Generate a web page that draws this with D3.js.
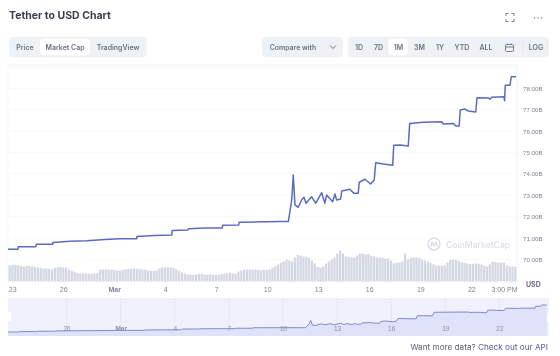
<!DOCTYPE html>
<html>
<head>
<meta charset="utf-8">
<script src="https://cdn.jsdelivr.net/npm/d3@7"></script>
<style>
  html, body { margin: 0; padding: 0; background: #fff; }
  svg { display: block; font-family: Inter, "Noto Sans", sans-serif; filter: blur(0.55px); }
</style>
</head>
<body>
<div id="chart"></div>
<script>
// days after 23 Feb, market cap in billions
var capDays = [-0.25, 0.34, 0.36, 1.39, 1.42, 2.38, 2.39, 3.39, 4.39, 5.45, 6.34, 7.32, 7.33, 8.39, 9.38, 9.41, 10.33, 10.36, 11.33, 12.35, 12.38, 13.32, 13.34, 15.75, 16.24, 16.44, 16.53, 16.63, 16.82, 17.02, 17.16, 17.28, 17.61, 17.86, 18.2, 18.39, 18.49, 18.85, 18.98, 19.08, 19.32, 19.38, 19.86, 20.1, 20.35, 20.41, 20.75, 21.08, 21.29, 21.38, 21.82, 22.38, 22.44, 22.81, 23.29, 23.38, 24.18, 25.26, 25.35, 25.94, 26.1, 26.29, 26.35, 26.63, 26.82, 27.26, 27.34, 28.0, 28.1, 28.2, 28.92, 28.96, 29.0, 29.28, 29.35, 29.63];
var capValues = [70.48, 70.48, 70.6, 70.6, 70.71, 70.71, 70.8, 70.85, 70.88, 70.94, 70.97, 70.97, 71.07, 71.12, 71.14, 71.35, 71.38, 71.44, 71.47, 71.47, 71.6, 71.61, 71.74, 71.77, 71.77, 72.78, 73.95, 72.55, 72.44, 72.78, 72.91, 72.63, 72.93, 72.63, 73.12, 72.63, 73.01, 72.7, 73.06, 72.78, 72.83, 73.2, 73.28, 73.09, 73.09, 73.61, 73.75, 73.53, 73.71, 74.52, 74.46, 74.4, 75.34, 75.35, 75.3, 76.36, 76.41, 76.44, 76.33, 76.36, 76.24, 76.24, 76.99, 77.03, 76.94, 76.89, 77.56, 77.55, 77.49, 77.58, 77.61, 77.42, 78.14, 78.14, 78.54, 78.54];
// volume, one bar for each 4 hours
var volumes = [48, 50, 50, 48, 47, 45, 47, 47, 45, 44, 42, 41, 39, 39, 38, 36, 41, 42, 44, 42, 42, 36, 32, 29, 26, 24, 24, 24, 23, 23, 24, 26, 35, 36, 36, 36, 35, 35, 33, 32, 35, 36, 38, 38, 39, 38, 38, 36, 35, 33, 32, 32, 33, 39, 42, 42, 42, 42, 41, 36, 32, 27, 24, 21, 21, 20, 21, 23, 23, 21, 21, 21, 20, 20, 20, 23, 24, 24, 26, 24, 23, 30, 33, 35, 36, 36, 36, 36, 35, 33, 35, 35, 36, 41, 45, 51, 56, 60, 65, 63, 60, 72, 80, 78, 75, 74, 71, 63, 54, 44, 41, 45, 53, 60, 65, 72, 84, 93, 84, 75, 74, 72, 72, 78, 83, 84, 81, 83, 78, 75, 72, 72, 71, 69, 69, 63, 54, 56, 57, 60, 84, 66, 71, 72, 72, 71, 66, 63, 60, 56, 51, 48, 47, 47, 48, 57, 65, 66, 65, 62, 57, 56, 54, 53, 53, 54, 53, 51, 48, 45, 51, 59, 59, 57, 57, 57, 48, 45, 45, 45];

var yTicks = [70, 71, 72, 73, 74, 75, 76, 77, 78];
var xTickDays = [0, 3, 6, 9, 12, 15, 18, 21, 24, 27, 29.69];
var xTickLabels = ["23", "26", "Mar", "4", "7", "10", "13", "16", "19", "22", "3:00 PM"];
var navTickDays = [3, 6, 9, 12, 15, 18, 21, 24, 27];
var navTickLabels = ["26", "Mar", "4", "7", "10", "13", "16", "19", "22"];

var typeTabs = ["Price", "Market Cap", "TradingView"];
var rangeTabs = ["1D", "7D", "1M", "3M", "1Y", "YTD", "ALL"];

var w = 560, h = 356;
var start = Date.UTC(2022, 1, 23);
function toDate(d) { return new Date(start + d * 864e5); }

var svg = d3.select("#chart").append("svg").attr("width", w).attr("height", h);

var xScale = d3.scaleUtc().domain([toDate(-0.25), toDate(29.69)]).range([8, 517]);
var yScale = d3.scaleLinear().domain([70, 78]).range([259.5, 88.3]);
var barScale = d3.scaleBand().domain(d3.range(volumes.length)).range([8, 517]).padding(0.2);
var volScale = d3.scaleLinear().domain([0, 93]).range([281.5, 250.5]);
var navX = d3.scaleUtc().domain([toDate(-0.25), toDate(29.75)]).range([8, 549]);
var navY = d3.scaleLinear().domain([70.48, 78.54]).range([332, 305]);

// header
svg.append("text").attr("x", 9).attr("y", 18.5).text("Tether to USD Chart")
  .attr("font-size", 10.5).attr("font-weight", 700).attr("fill", "#3a3f4f");

function panel(x, y, width, height, fill) {
  svg.append("rect").attr("x", x).attr("y", y).attr("width", width).attr("height", height)
    .attr("rx", 4).attr("fill", fill);
}
function label(x, y, txt, size, color, weight) {
  return svg.append("text").attr("x", x).attr("y", y).attr("text-anchor", "middle")
    .attr("font-size", size).attr("font-weight", weight || 600).attr("fill", color).text(txt);
}

panel(9, 36.7, 137.5, 20.6, "#eff2f5");
panel(40, 38.7, 50, 16.6, "#fff");
var typeCentres = [25, 65, 118];
typeTabs.forEach(function(t, i) { label(typeCentres[i], 49.5, t, 7, "#6a7184"); });

panel(262, 36.7, 81, 20.6, "#eff2f5");
label(293, 49.5, "Compare with", 6.9, "#6a7184");
svg.append("path").attr("d", "M330 45.5l3 3 3-3").attr("fill", "none").attr("stroke", "#6a7184");

panel(348, 36.7, 201, 20.6, "#eff2f5");
panel(388.5, 38.7, 19.5, 16.6, "#fff");
var rangeCentres = [359, 378.5, 398.5, 419.5, 440, 462, 486];
rangeTabs.forEach(function(t, i) { label(rangeCentres[i], 49.5, t, 7, "#6a7184"); });
svg.append("rect").attr("x", 505.5).attr("y", 44.5).attr("width", 8).attr("height", 7).attr("rx", 1)
  .attr("fill", "none").attr("stroke", "#6a7184").attr("stroke-width", 0.9);
svg.append("path").attr("d", "M505.5 47h8M507.5 43.5v1.5M511.5 43.5v1.5").attr("stroke", "#6a7184").attr("stroke-width", 0.9);
svg.append("line").attr("x1", 523).attr("x2", 523).attr("y1", 41).attr("y2", 53).attr("stroke", "#e1e4ea");
label(536, 49.5, "LOG", 7, "#6a7184");

// fullscreen and more icons
svg.append("path")
  .attr("d", "M506 16v-2.500h2.500M511.500 13.500h2.500v2.500M514 19v2.500h-2.500M508.500 21.500h-2.500v-2.500")
  .attr("fill", "none").attr("stroke", "#6a7184").attr("stroke-width", 0.9);
[534.5, 538, 541.5].forEach(function(x) {
  svg.append("circle").attr("cx", x).attr("cy", 18).attr("r", 0.7).attr("fill", "#6a7184");
});

// grid and frame
svg.append("g").selectAll("line").data(yTicks.concat([79])).enter().append("line")
  .attr("x1", 8).attr("x2", 517)
  .attr("y1", function(d) { return yScale(d); }).attr("y2", function(d) { return yScale(d); })
  .attr("stroke", "#f8f9fb");
svg.append("line").attr("x1", 517).attr("x2", 517).attr("y1", 65).attr("y2", 282).attr("stroke", "#f0f2f5");
svg.append("line").attr("x1", 8).attr("x2", 517).attr("y1", 65).attr("y2", 65).attr("stroke", "#f5f6f8");
svg.append("line").attr("x1", 8).attr("x2", 8).attr("y1", 65).attr("y2", 282).attr("stroke", "#f8f9fb");

// volume bars
svg.append("g").selectAll("rect").data(volumes).enter().append("rect")
  .attr("x", function(d, i) { return barScale(i); })
  .attr("width", barScale.bandwidth())
  .attr("y", function(d) { return volScale(d); })
  .attr("height", function(d) { return volScale(0) - volScale(d); })
  .attr("fill", "#d3d7e2");

// watermark
svg.append("circle").attr("cx", 434).attr("cy", 244).attr("r", 6).attr("fill", "none")
  .attr("stroke", "#d5d9e2").attr("stroke-width", 1.2);
svg.append("path").attr("d", "M430.500 247l1.500-5 2 4 2-4 1.500 5").attr("fill", "none")
  .attr("stroke", "#d5d9e2").attr("stroke-width", 1.1);
svg.append("text").attr("x", 446).attr("y", 247.5).text("CoinMarketCap")
  .attr("font-size", 8.6).attr("font-weight", 500).attr("fill", "#dadde5");

// main line
var line = d3.line()
  .x(function(d, i) { return xScale(toDate(capDays[i])); })
  .y(function(d) { return yScale(d); });
svg.append("path").datum(capValues).attr("d", line)
  .attr("fill", "none").attr("stroke", "#5b6bbf").attr("stroke-width", 1.5).attr("stroke-linejoin", "round");

// axes
var yAxis = d3.axisRight(yScale).tickValues(yTicks).tickSize(0).tickPadding(0)
  .tickFormat(function(d) { return d + ".00B"; });
var yG = svg.append("g").attr("transform", "translate(523,0)").call(yAxis);
yG.select(".domain").remove();
yG.selectAll("text").attr("font-size", 6.2).attr("font-family", "inherit").attr("fill", "#7d8494");

var xAxis = d3.axisBottom(xScale).tickValues(xTickDays.map(toDate)).tickSize(0).tickPadding(0)
  .tickFormat(function(d, i) { return xTickLabels[i]; });
var xG = svg.append("g").attr("transform", "translate(0,287.5)").call(xAxis);
xG.select(".domain").remove();
xG.selectAll("text").attr("font-size", 7).attr("font-family", "inherit").attr("fill", "#7d8494")
  .attr("font-weight", function(d, i) { return xTickLabels[i] == "Mar" ? 700 : 400; })
  .attr("text-anchor", function(d, i) { return i == xTickLabels.length - 1 ? "end" : "middle"; });

svg.append("text").attr("x", 526).attr("y", 287).text("USD")
  .attr("font-size", 7).attr("font-weight", 700).attr("fill", "#6a7184");

// navigator
svg.append("rect").attr("x", 8).attr("y", 298).attr("width", 541).attr("height", 38).attr("fill", "#f0f1fc");
svg.append("g").selectAll("line").data(navTickDays).enter().append("line")
  .attr("x1", function(d) { return navX(toDate(d)); }).attr("x2", function(d) { return navX(toDate(d)); })
  .attr("y1", 298).attr("y2", 336).attr("stroke", "#e6e7f5");
var navArea = d3.area()
  .x(function(d, i) { return navX(toDate(capDays[i])); })
  .y0(336)
  .y1(function(d) { return navY(d); });
svg.append("path").datum(capValues).attr("d", navArea).attr("fill", "#dfe2f8");
var navLine = d3.line()
  .x(function(d, i) { return navX(toDate(capDays[i])); })
  .y(function(d) { return navY(d); });
svg.append("path").datum(capValues).attr("d", navLine)
  .attr("fill", "none").attr("stroke", "#7f8bcd").attr("stroke-width", 1);
var navAxis = d3.axisBottom(navX).tickValues(navTickDays.map(toDate)).tickSize(0).tickPadding(0)
  .tickFormat(function(d, i) { return navTickLabels[i]; });
var navG = svg.append("g").attr("transform", "translate(0,326)").call(navAxis);
navG.select(".domain").remove();
navG.selectAll("text").attr("font-size", 6.5).attr("font-family", "inherit").attr("fill", "#8b8fa8")
  .attr("font-weight", function(d, i) { return navTickLabels[i] == "Mar" ? 700 : 400; });
svg.append("rect").attr("x", 8).attr("y", 312).attr("width", 3).attr("height", 9).attr("fill", "#fff");
svg.append("rect").attr("x", 547).attr("y", 313).attr("width", 2).attr("height", 9).attr("fill", "#fff");

// footer
var foot = svg.append("text").attr("x", 548).attr("y", 350).attr("text-anchor", "end").attr("font-size", 8.2);
foot.append("tspan").attr("fill", "#5a6070").text("Want more data? ");
foot.append("tspan").attr("fill", "#4f5d9c").text("Check out our API");
</script>
</body>
</html>
